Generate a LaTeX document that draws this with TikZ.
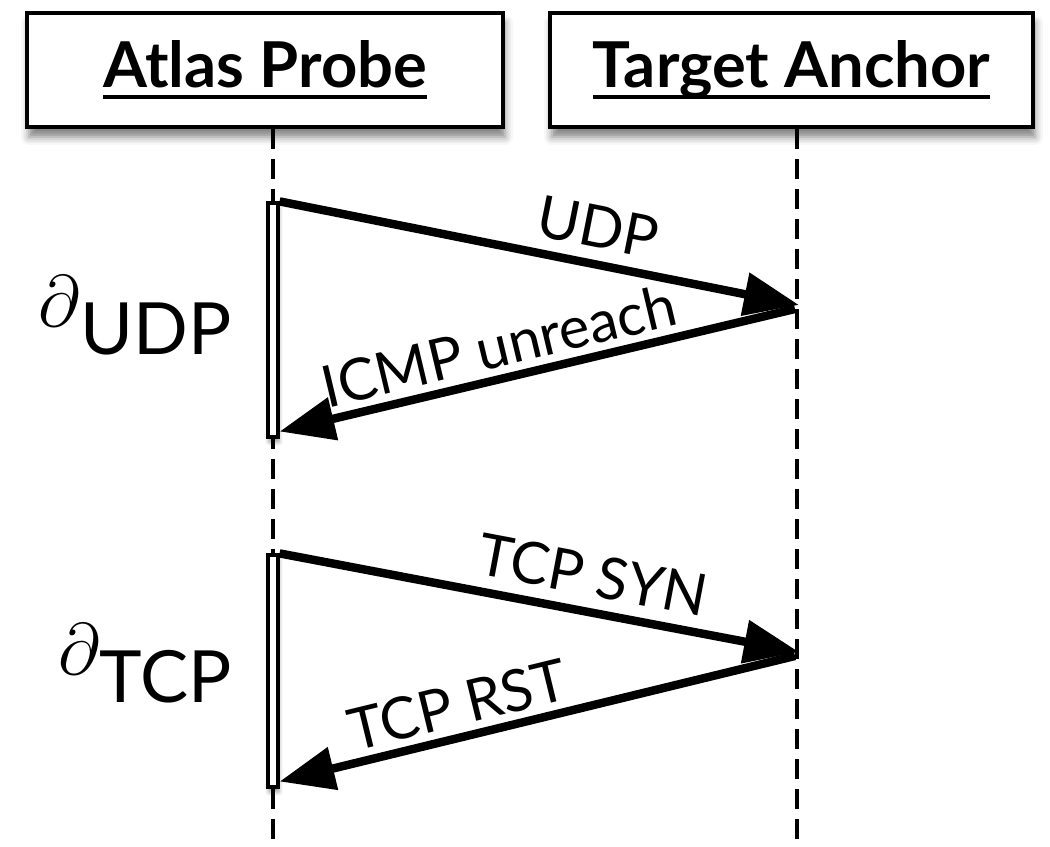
\documentclass[tikz,border=0pt]{standalone}
\usepackage{fontspec}
\setmainfont{Lato}
\usetikzlibrary{arrows.meta, positioning, shadows.blur}

% underline at a fixed depth, the way the header labels show it
\newcommand{\hdrline}[1]{\setbox0\hbox{#1}\rlap{\rule[-0.19em]{\wd0}{0.075em}}\box0}

\begin{document}
\begin{tikzpicture}[
  font=\fontsize{16.5}{19}\selectfont,
  actor/.style={draw, line width=1.15pt, fill=white, minimum height=1.14cm,
    font=\fontsize{18}{22}\selectfont\bfseries,
    blur shadow={shadow xshift=0.02cm, shadow yshift=-0.1cm, shadow blur radius=0.08cm, shadow opacity=50}},
  lifeline/.style={line width=1.1pt, dash pattern=on 0.2cm off 0.1cm},
  actbar/.style={draw, line width=0.9pt, fill=white, minimum width=0.1cm, inner sep=0pt,
    blur shadow={shadow xshift=0.01cm, shadow yshift=-0.05cm, shadow blur radius=0.04cm}},
  msg/.style={line width=2.4pt, -{Triangle[length=0.55cm, width=0.42cm]}},
  reply/.style={line width=2.4pt, {Triangle[length=0.55cm, width=0.42cm]}-},
  delta/.style={font=\fontsize{20.5}{24}\selectfont, inner sep=0pt, anchor=base east}
]
  \useasboundingbox (0,0) rectangle (10.5,8.47);

  % participants
  \node[actor, minimum width=4.76cm] (probe) at (2.65,7.77) {\hdrline{Atlas Probe}};
  \node[actor, minimum width=4.83cm] (anchor) at (7.915,7.77) {\hdrline{Target Anchor}};

  % lifelines
  \coordinate (pbot) at (2.73,0);
  \coordinate (abot) at (7.97,0);
  \draw[lifeline] (probe.south -| pbot) -- (pbot);
  \draw[lifeline] (anchor.south -| abot) -- (abot);

  % activations
  \node[actbar, minimum height=2.34cm] (udpbar) at (2.73,5.27) {};
  \node[actbar, minimum height=2.32cm] (tcpbar) at (2.73,1.76) {};

  \coordinate (udphit) at (7.99,5.42);
  \coordinate (tcphit) at (7.99,1.95);

  % UDP probe
  \draw[msg] (udpbar.north east) -- (udphit) node[pos=0.6, sloped, above] {UDP};
  \draw[reply] ([yshift=2pt]udpbar.south east) -- ([shift={(-0.04,-0.04)}]udphit)
    node[pos=0.44, sloped, above, inner sep=2pt] {ICMP unreach};

  % TCP probe
  \draw[msg] (tcpbar.north east) -- (tcphit) node[pos=0.59, sloped, above] {TCP SYN};
  \draw[reply] ([yshift=2pt]tcpbar.south east) -- ([shift={(-0.04,-0.04)}]tcphit)
    node[pos=0.36, sloped, above, inner sep=2pt] {TCP RST};

  % delays
  \node[delta] (dudp) at (2.32,4.92) {\raisebox{0.4em}{$\partial$}UDP};
  \node[delta] (dtcp) at (2.32,1.44) {\raisebox{0.4em}{$\partial$}TCP};
\end{tikzpicture}
\end{document}
